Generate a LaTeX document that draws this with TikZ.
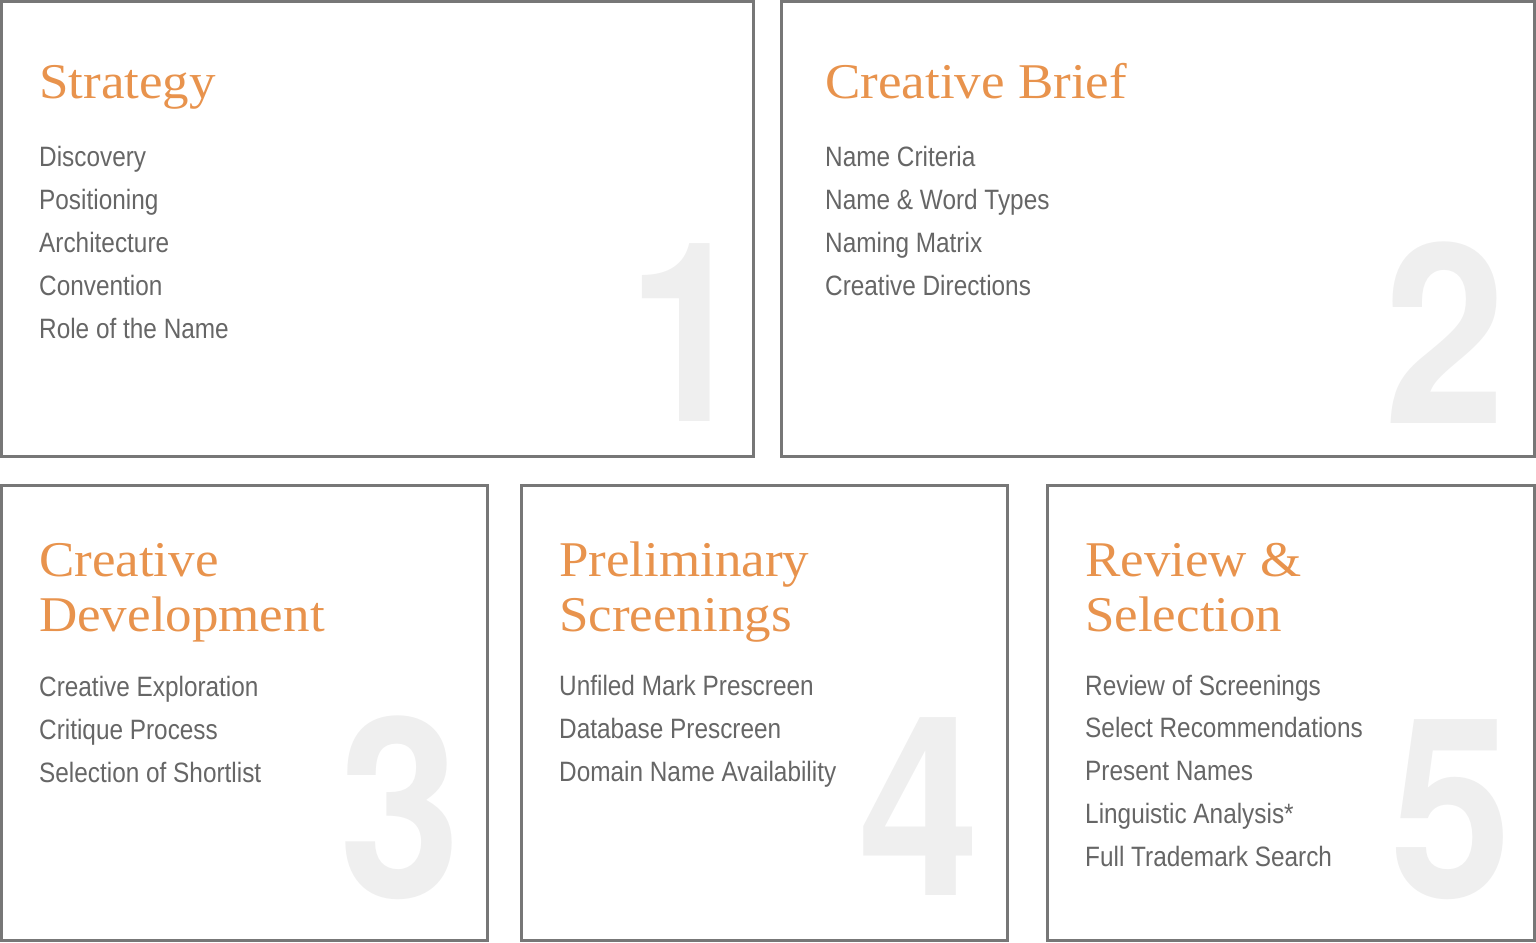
\documentclass[tikz,border=0pt]{standalone}
\usepackage{fontspec}
\setmainfont{Liberation Sans}
\newfontfamily\titlefont[FakeStretch=1.06]{Liberation Serif}
\newfontfamily\itemfont[FakeStretch=0.87]{Liberation Sans}
\newfontfamily\digitfont[FakeStretch=0.87]{TeX Gyre Heros}
\usepackage{xcolor}
\usepackage{tikz}
\usetikzlibrary{calc}

\definecolor{stageorange}{HTML}{E8934D}
\definecolor{stagegray}{HTML}{666666}
\definecolor{stageline}{HTML}{777777}
\definecolor{stagedigit}{HTML}{EFEFEF}

\begin{document}
\begin{tikzpicture}[x=1pt,y=-1pt,
    stagebox/.style={draw=stageline,line width=3pt},
    stagetitle/.style={anchor=base west,inner sep=0pt,text=stageorange,font=\titlefont\fontsize{50}{55}\selectfont},
    stageitem/.style={anchor=base west,inner sep=0pt,text=stagegray,font=\itemfont\fontsize{28}{32}\selectfont},
    stagedigit/.style={anchor=base east,inner sep=0pt,text=stagedigit,font=\digitfont\bfseries\fontsize{251}{255}\selectfont}]
        % Fix the page size
        \useasboundingbox (0,0) rectangle (1536,942);

        % Large step numbers behind the text
        \node[stagedigit] (n1) at (749,421) {1};
        \node[stagedigit] (n2) at (1506,423) {2};
        \node[stagedigit] (n3) at (461,897) {3};
        \node[stagedigit] (n4) at (980,895) {4};
        \node[stagedigit] (n5) at (1512,897) {5};

        % The five stage frames
        \draw[stagebox] (1.5,1.5) rectangle (753.5,456.5);
        \draw[stagebox] (781.5,1.5) rectangle (1534.5,456.5);
        \draw[stagebox] (1.5,485.5) rectangle (487.5,940.5);
        \draw[stagebox] (521.5,485.5) rectangle (1007.5,940.5);
        \draw[stagebox] (1047.5,485.5) rectangle (1534.5,940.5);

        % Stage 1
        \node[stagetitle] (t1) at (39,98) {Strategy};
        \foreach \txt [count=\i] in {Discovery,Positioning,Architecture,Convention,Role of the Name}
            \node[stageitem] (s1-\i) at (39,{166+43*(\i-1)}) {\txt};

        % Stage 2
        \node[stagetitle] (t2) at (825,98) {Creative Brief};
        \foreach \txt [count=\i] in {Name Criteria,Name \& Word Types,Naming Matrix,Creative Directions}
            \node[stageitem] (s2-\i) at (825,{166+43*(\i-1)}) {\txt};

        % Stage 3
        \node[stagetitle] (t3a) at (39,576) {Creative};
        \node[stagetitle] (t3b) at (39,631) {Development};
        \foreach \txt [count=\i] in {Creative Exploration,Critique Process,Selection of Shortlist}
            \node[stageitem] (s3-\i) at (39,{696+43*(\i-1)}) {\txt};

        % Stage 4
        \node[stagetitle] (t4a) at (559,576) {Preliminary};
        \node[stagetitle] (t4b) at (559,631) {Screenings};
        \foreach \txt [count=\i] in {Unfiled Mark Prescreen,Database Prescreen,Domain Name Availability}
            \node[stageitem] (s4-\i) at (559,{695+43*(\i-1)}) {\txt};

        % Stage 5
        \node[stagetitle] (t5a) at (1085,576) {Review \&};
        \node[stagetitle] (t5b) at (1085,631) {Selection};
        \foreach \txt [count=\i] in {Review of Screenings,Select Recommendations,Present Names,Linguistic Analysis*,Full Trademark Search}
            \node[stageitem] (s5-\i) at (1085,{695+42.75*(\i-1)}) {\txt};
    \end{tikzpicture}
\end{document}
